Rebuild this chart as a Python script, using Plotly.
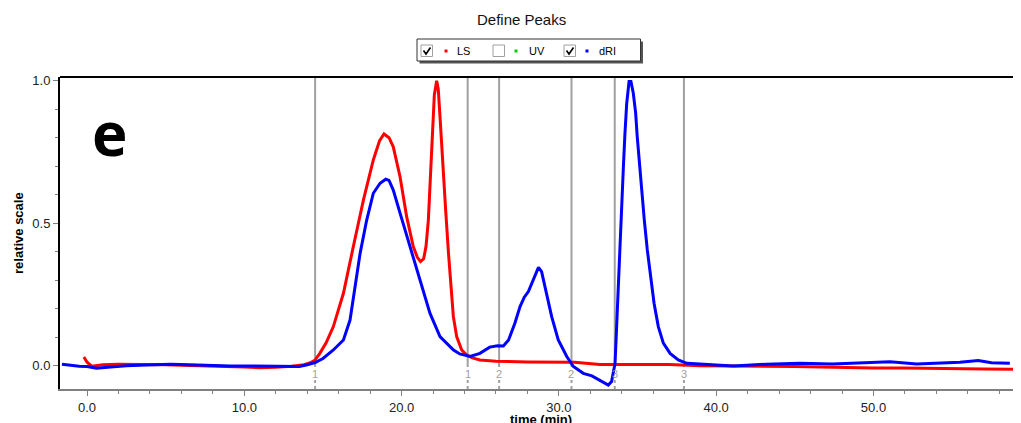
import plotly.graph_objects as go

# ---------------- data ----------------
ls_time = [-0.2, 0.0, 0.3, 1.0, 2.0, 3.0, 4.0, 5.0, 6.0, 7.0, 8.0, 9.0, 10.0, 11.0, 12.0, 13.0,
           13.8, 14.2, 14.5, 14.8, 15.2, 15.66, 16.3, 16.93, 17.57, 18.2, 18.6, 18.88, 19.2, 19.47,
           19.9, 20.32, 20.74, 21.0, 21.2, 21.4, 21.55, 21.7, 21.8, 21.9, 22.0, 22.08, 22.23, 22.33,
           22.44, 22.55, 22.66, 22.8, 22.98, 23.12, 23.29, 23.5, 23.82, 24.14, 24.5, 24.98, 26.0,
           28.0, 30.0, 31.0, 32.6, 34.0, 35.5, 37.0, 39.0, 41.0, 43.0, 45.0, 46.5, 48.0, 50.0,
           52.0, 53.5, 55.0, 57.0, 59.4]
ls_value = [0.03, 0.012, -0.002, 0.003, 0.005, 0.005, 0.004, 0.003, 0.001, 0.0, -0.001, -0.004,
            -0.005, -0.007, -0.006, -0.002, 0.003, 0.01, 0.02, 0.043, 0.08, 0.137, 0.254, 0.418,
            0.581, 0.722, 0.79, 0.813, 0.8, 0.768, 0.663, 0.523, 0.418, 0.38, 0.365, 0.375, 0.418,
            0.511, 0.628, 0.745, 0.862, 0.95, 1.0, 0.97, 0.874, 0.768, 0.65, 0.546, 0.394, 0.277,
            0.172, 0.102, 0.055, 0.037, 0.027, 0.02, 0.015, 0.013, 0.013, 0.012, 0.004, 0.004,
            0.006, 0.004, 0.0, -0.002, -0.002, -0.003, -0.005, -0.006, -0.008, -0.008, -0.01,
            -0.011, -0.012, -0.013]

dri_time = [-1.6, -1.0, -0.5, 0.0, 0.6, 1.5, 2.5, 3.8, 5.3, 6.5, 8.0, 9.1, 10.5, 12.3, 13.5, 14.0,
            14.5, 15.0, 15.66, 16.3, 16.72, 17.04, 17.36, 17.78, 18.2, 18.63, 18.99, 19.2, 19.47,
            19.9, 20.53, 21.17, 21.8, 22.44, 23.3, 23.7, 24.35, 24.98, 25.6, 26.1, 26.47, 26.8,
            27.2, 27.53, 27.8, 28.06, 28.38, 28.7, 28.9, 29.23, 29.54, 29.96, 30.5, 30.92, 31.55,
            32.1, 32.6, 33.14, 33.35, 33.5, 33.57, 33.67, 33.77, 33.88, 33.99, 34.1, 34.2, 34.31,
            34.46, 34.58, 34.73, 34.88, 34.98, 35.11, 35.26, 35.43, 35.62, 35.84, 36.05, 36.32,
            36.64, 37.07, 37.59, 38.13, 38.97, 41.1, 43.2, 45.3, 47.4, 49.0, 51.05, 52.75, 54.0,
            55.5, 56.66, 57.5, 58.67]
dri_value = [0.005, 0.001, -0.002, -0.003, -0.009, -0.005, 0.0, 0.002, 0.005, 0.003, 0.0, -0.001,
             -0.001, -0.003, -0.003, 0.003, 0.011, 0.025, 0.055, 0.09, 0.16, 0.277, 0.394, 0.511,
             0.605, 0.64, 0.654, 0.65, 0.616, 0.535, 0.418, 0.3, 0.184, 0.102, 0.055, 0.041, 0.032,
             0.043, 0.065, 0.07, 0.069, 0.09, 0.149, 0.207, 0.24, 0.26, 0.3, 0.345, 0.33, 0.254,
             0.172, 0.09, 0.032, -0.003, -0.027, -0.036, -0.05, -0.068, -0.056, -0.015, 0.008,
             0.137, 0.277, 0.441, 0.581, 0.698, 0.815, 0.92, 0.997, 0.997, 0.956, 0.886, 0.804,
             0.71, 0.616, 0.511, 0.406, 0.312, 0.219, 0.137, 0.079, 0.043, 0.02, 0.008, 0.005,
             -0.001, 0.005, 0.008, 0.006, 0.01, 0.014, 0.006, 0.009, 0.012, 0.018, 0.01, 0.008]

peak_times = [14.5, 24.2, 26.2, 30.8, 33.55, 37.95]
peak_labels = ["1", "1", "2", "2", "3", "3"]

legend_names = ["LS", "UV", "dRI"]
legend_colors = ["#ff0000", "#00cc00", "#0000ff"]
legend_checked = [True, False, True]

# ---------------- geometry helpers ----------------
# the page body adds an 8px margin, so the figure is offset by OFF on both axes
OFF = 8
W, H = 1021 - OFF, 423 - OFF
ML, MR, MT, MB = 60 - OFF, 0, 77 - OFF, 423 - 389
PW, PH = W - ML - MR, H - MT - MB


def px(x):
    """page-pixel x -> paper coordinate"""
    return (x - OFF - ML) / PW


def py(y):
    """page-pixel y -> paper coordinate"""
    return (H - MB - (y - OFF)) / PH


FONT = "Liberation Sans, Arial, sans-serif"

fig = go.Figure()
fig.add_trace(go.Scatter(x=ls_time, y=ls_value, mode="lines", name="LS",
                         line=dict(color="#ff0000", width=3), showlegend=False))
fig.add_trace(go.Scatter(x=dri_time, y=dri_value, mode="lines", name="dRI",
                         line=dict(color="#0000ff", width=3), showlegend=False))

shapes = []
annotations = []

# peak boundary lines
for t, lab in zip(peak_times, peak_labels):
    shapes.append(dict(type="line", xref="x", yref="paper", x0=t, x1=t,
                       y0=py(367), y1=1, line=dict(color="#a0a0a0", width=2), layer="below"))
    shapes.append(dict(type="line", xref="x", yref="paper", x0=t, x1=t,
                       y0=0, y1=py(379), line=dict(color="#a0a0a0", width=2, dash="3px,3px"),
                       layer="below"))
    annotations.append(dict(x=t, y=py(374), xref="x", yref="paper", text=lab, showarrow=False,
                            font=dict(family=FONT, size=11, color="#a0a0a0"),
                            xanchor="center", yanchor="middle"))

# top border
shapes.append(dict(type="line", xref="paper", yref="paper", x0=0, x1=1, y0=1, y1=1,
                   line=dict(color="#000000", width=2)))

# legend box with shadow
shapes.append(dict(type="rect", xref="paper", yref="paper", x0=px(419.5), x1=px(643),
                   y0=py(63.5), y1=py(41.5), line=dict(width=0), fillcolor="#555555"))
shapes.append(dict(type="rect", xref="paper", yref="paper", x0=px(417), x1=px(640.5),
                   y0=py(61), y1=py(39), line=dict(color="#333333", width=1), fillcolor="#ffffff"))

box_x = [421, 493, 564]
dot_x = [446, 516, 587]
text_x = [455, 527, 597]
for name, col, chk, bx, dx, tx in zip(legend_names, legend_colors, legend_checked, box_x, dot_x, text_x):
    shapes.append(dict(type="rect", xref="paper", yref="paper", x0=px(bx), x1=px(bx + 11.5),
                       y0=py(56.5), y1=py(45), line=dict(color="#a0a0a0", width=1),
                       fillcolor="#ffffff"))
    if chk:
        path = "M {} {} L {} {} L {} {}".format(px(bx + 2.5), py(50.5), px(bx + 5), py(54),
                                                px(bx + 9.5), py(47.5))
        shapes.append(dict(type="path", xref="paper", yref="paper", path=path,
                           line=dict(color="#000000", width=1.6)))
    shapes.append(dict(type="rect", xref="paper", yref="paper", x0=px(dx - 1.5), x1=px(dx + 1.5),
                       y0=py(52.5), y1=py(49.5), line=dict(width=0), fillcolor=col))
    annotations.append(dict(x=px(tx), y=py(50.5), xref="paper", yref="paper", text=name,
                            showarrow=False, xanchor="left", yanchor="middle",
                            font=dict(family=FONT, size=11, color="#000000")))

# title
annotations.append(dict(x=px(521.5), y=py(20), xref="paper", yref="paper", text="Define Peaks",
                        showarrow=False, xanchor="center", yanchor="middle",
                        font=dict(family=FONT, size=15, color="#111111")))
# panel letter
annotations.append(dict(x=px(109), y=py(133), xref="paper", yref="paper", text="<b>e</b>",
                        showarrow=False, xanchor="center", yanchor="middle",
                        font=dict(family="Open Sans, sans-serif", size=60, color="#000000")))
# axis titles
annotations.append(dict(x=px(18), y=py(233), xref="paper", yref="paper", text="<b>relative scale</b>",
                        showarrow=False, textangle=-90, xanchor="center", yanchor="middle",
                        font=dict(family=FONT, size=13, color="#000000")))
annotations.append(dict(x=px(541), y=py(419), xref="paper", yref="paper", text="<b>time (min)</b>",
                        showarrow=False, xanchor="center", yanchor="middle",
                        font=dict(family=FONT, size=13, color="#000000")))

fig.update_layout(
    width=W, height=H,
    margin=dict(l=ML, r=MR, t=MT, b=MB, pad=0),
    paper_bgcolor="#ffffff", plot_bgcolor="#ffffff",
    showlegend=False,
    shapes=shapes, annotations=annotations,
    xaxis=dict(range=[-1.72, 59.38], tick0=0, dtick=10, tickformat=".1f",
               showline=True, linecolor="#808080", linewidth=2,
               ticks="outside", ticklen=5, tickwidth=1, tickcolor="#808080",
               minor=dict(dtick=2, tick0=0, ticks="outside", ticklen=3, tickcolor="#808080"),
               showgrid=False, zeroline=False,
               tickfont=dict(family=FONT, size=13, color="#222222")),
    yaxis=dict(range=[-0.082, 1.013], tick0=0, dtick=0.5, tickformat=".1f",
               showline=True, linecolor="#000000", linewidth=2,
               ticks="outside", ticklen=5, tickwidth=1, tickcolor="#808080",
               minor=dict(dtick=0.1, tick0=0, ticks="outside", ticklen=3, tickcolor="#808080"),
               showgrid=False, zeroline=False,
               tickfont=dict(family=FONT, size=13, color="#222222")),
)

fig.write_html("out.html", post_script="document.body.style.overflow='hidden';")
